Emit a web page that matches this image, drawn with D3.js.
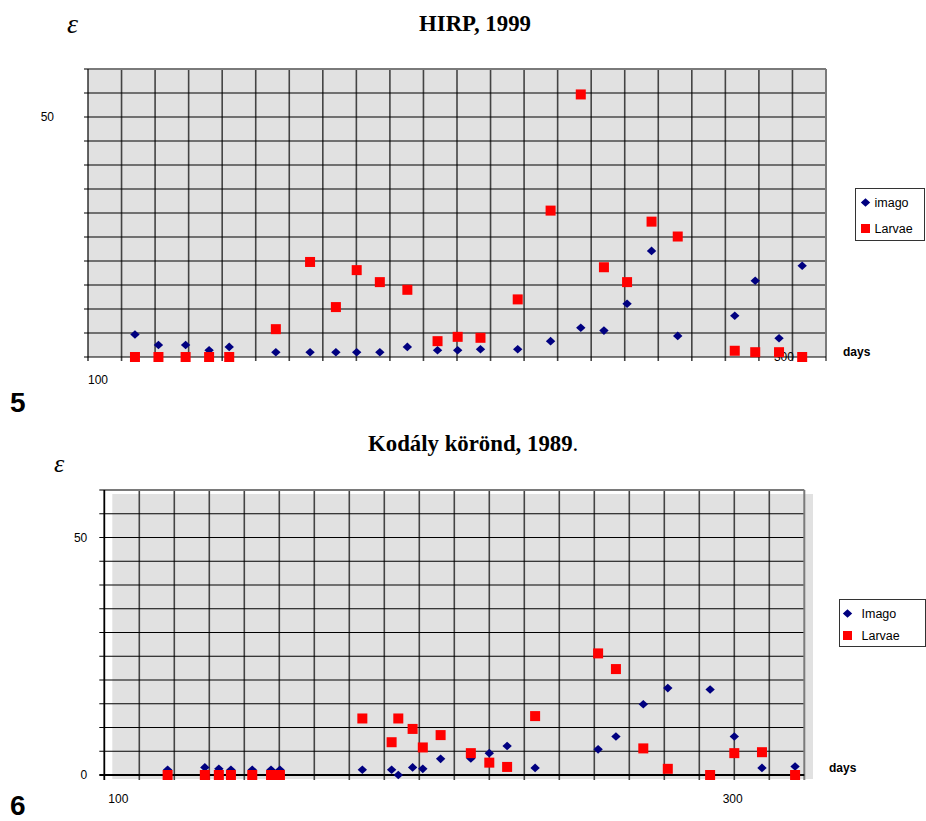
<!DOCTYPE html>
<html>
<head>
<meta charset="utf-8">
<script src="https://cdn.jsdelivr.net/npm/d3@7"></script>
<style>
  html, body { margin: 0; padding: 0; background: #fff; }
  svg { display: block; }
</style>
</head>
<body>
<svg id="chart" width="926" height="821"></svg>
<script>
// ---------- Data: Figure 5 — HIRP, 1999 ----------
const hirpDays   = [114, 121, 129.1, 136.1, 142.1, 156, 166.2, 173.9, 180.1, 187, 195.2, 204.2, 210.2, 217, 228.1, 237.9, 246.9, 253.8, 260.7, 268, 275.8, 292.8, 298.9, 306, 312.9];
const hirpImago  = [4.7, 2.5, 2.5, 1.4, 2.1, 1.0, 1.0, 1.0, 1.0, 1.0, 2.1, 1.4, 1.4, 1.6, 1.6, 3.3, 6.1, 5.5, 11.1, 22.1, 4.4, 8.6, 15.9, 3.9, 19.0];
const hirpLarvae = [0, 0, 0, 0, 0, 5.8, 19.8, 10.4, 18.1, 15.6, 14.0, 3.3, 4.2, 4.0, 12.0, 30.5, 54.7, 18.7, 15.6, 28.2, 25.1, 1.3, 1.0, 1.0, 0];
const hirpSeriesNames = ["imago", "Larvae"];

// ---------- Data: Figure 6 — Kodály körönd, 1989 ----------
const kodalyDays   = [119.9, 131.6, 136, 139.8, 146.5, 152.4, 155.2, 181.1, 190.3, 192.4, 196.9, 200.1, 205.7, 215.2, 221, 226.6, 235.4, 255.2, 260.8, 269.4, 277.1, 290.4, 298, 306.7, 317.1];
const kodalyImago  = [1.1, 1.6, 1.3, 1.1, 1.1, 1.1, 1.1, 1.1, 1.1, 0, 1.6, 1.3, 3.4, 3.5, 4.6, 6.1, 1.5, 5.4, 8.1, 14.9, 18.3, 18.0, 8.1, 1.5, 1.8];
const kodalyLarvae = [0, 0, 0, 0, 0, 0, 0, 11.9, 6.9, 11.9, 9.7, 5.8, 8.4, 4.6, 2.6, 1.7, 12.4, 25.6, 22.3, 5.6, 1.3, 0, 4.6, 4.8, 0];
const kodalySeriesNames = ["Imago", "Larvae"];

// ---------- Axis / tick labels ----------
const xDomain = [100, 320];
const yDomain = [0, 60];
const hirpXGridStep = 10;
const kodalyXGridStep = 11;
const yGridStep = 5;
const hirpXTickLabels = [100, 300];
const hirpYTickLabels = [50];
const kodalyXTickLabels = [100, 300];
const kodalyYTickLabels = [0, 50];

const svg = d3.select("#chart");
const IMAGO = "#000080", LARVAE = "#ff0000";
const diamondPath = "M0,-4.3 L4.7,0 L0,4.3 L-4.7,0 Z";

function drawChart(cfg) {
  const g = svg.append("g");
  const x = d3.scaleLinear().domain(xDomain).range([cfg.left, cfg.right]);
  const y = d3.scaleLinear().domain(yDomain).range([cfg.bottom, cfg.top]);

  // background
  g.append("rect")
    .attr("x", cfg.left + cfg.bgDx).attr("y", cfg.top + cfg.bgDy)
    .attr("width", cfg.right - cfg.left + cfg.bgDw).attr("height", cfg.bottom - cfg.top + cfg.bgDh)
    .attr("fill", "#e1e1e1");

  const xGrid = d3.range(xDomain[0], xDomain[1] + 0.01, cfg.xStep);
  const yGrid = d3.range(yDomain[0], yDomain[1] + 0.01, yGridStep);

  // vertical gridlines
  g.selectAll(".vg").data(xGrid.slice(1, -1)).join("line")
    .attr("x1", d => x(d)).attr("x2", d => x(d))
    .attr("y1", cfg.top).attr("y2", cfg.bottom + cfg.tickLen)
    .attr("stroke", "#444").attr("stroke-width", 1.6);
  // horizontal gridlines
  g.selectAll(".hg").data(yGrid.slice(1, -1)).join("line")
    .attr("x1", cfg.left - cfg.tickLen).attr("x2", cfg.right)
    .attr("y1", d => y(d)).attr("y2", d => y(d))
    .attr("stroke", "#000").attr("stroke-width", 1.1);
  // top & right border (gray)
  g.append("line").attr("x1", cfg.left - cfg.tickLen).attr("x2", cfg.right)
    .attr("y1", cfg.top).attr("y2", cfg.top).attr("stroke", "#7a7a7a").attr("stroke-width", 2);
  g.append("line").attr("x1", cfg.right).attr("x2", cfg.right)
    .attr("y1", cfg.top).attr("y2", cfg.bottom + cfg.tickLen).attr("stroke", "#7a7a7a").attr("stroke-width", 2);
  // axes (black)
  g.append("line").attr("x1", cfg.left).attr("x2", cfg.left)
    .attr("y1", cfg.top).attr("y2", cfg.bottom + cfg.tickLen).attr("stroke", "#000").attr("stroke-width", cfg.axisW);
  g.append("line").attr("x1", cfg.left - cfg.tickLen).attr("x2", cfg.right)
    .attr("y1", cfg.bottom).attr("y2", cfg.bottom).attr("stroke", "#000").attr("stroke-width", cfg.axisW);

  // tick labels
  const labelFont = "Liberation Sans, Arial, sans-serif";
  g.selectAll(".yl").data(cfg.yLabels).join("text")
    .attr("x", cfg.left - cfg.yLabelGap).attr("y", d => y(d) + 4)
    .attr("text-anchor", "end").attr("font-family", labelFont).attr("font-size", 12)
    .text(d => d);
  g.selectAll(".xl").data(cfg.xLabels).join("text")
    .attr("x", (d, i) => x(d) + cfg.xLabelDx[i]).attr("y", (d, i) => cfg.bottom + cfg.xLabelDy[i])
    .attr("text-anchor", "middle").attr("font-family", labelFont).attr("font-size", 12)
    .text(d => d);

  // points: imago
  g.selectAll(".im").data(cfg.days.map((d, i) => [d, cfg.imago[i]])).join("path")
    .attr("d", diamondPath)
    .attr("transform", d => `translate(${x(d[0])},${y(d[1])})`)
    .attr("fill", IMAGO);
  // points: larvae
  g.selectAll(".lv").data(cfg.days.map((d, i) => [d, cfg.larvae[i]])).join("rect")
    .attr("x", d => x(d[0]) - 5).attr("y", d => y(d[1]) - 5)
    .attr("width", 10).attr("height", 10)
    .attr("fill", LARVAE);

  // "days" label
  g.append("text").attr("x", cfg.daysX).attr("y", cfg.bottom + cfg.daysDy)
    .attr("font-family", labelFont).attr("font-size", 12).attr("font-weight", "bold")
    .text("days");

  // epsilon label
  g.append("text").attr("x", cfg.epsX).attr("y", cfg.epsY)
    .attr("font-family", "Liberation Serif, Times New Roman, serif").attr("font-style", "italic")
    .attr("font-size", cfg.epsSize).text("ε");

  // title
  const t = g.append("text").attr("x", cfg.titleX).attr("y", cfg.titleY)
    .attr("text-anchor", cfg.titleAnchor)
    .attr("font-family", "Liberation Serif, Times New Roman, serif").attr("font-size", 22.8);
  t.append("tspan").attr("font-weight", "bold").text(cfg.title);
  if (cfg.titleSuffix) t.append("tspan").text(cfg.titleSuffix);

  // figure number
  g.append("text").attr("x", 10).attr("y", cfg.figY)
    .attr("font-family", labelFont).attr("font-size", 28).attr("font-weight", "bold")
    .text(cfg.figNum);

  // legend
  const L = cfg.legend;
  g.append("rect").attr("x", L.x).attr("y", L.y).attr("width", L.w).attr("height", L.h)
    .attr("fill", "#fff").attr("stroke", "#333").attr("stroke-width", 1);
  g.append("path").attr("d", diamondPath)
    .attr("transform", `translate(${L.x + L.markX},${L.y + L.row1})`).attr("fill", IMAGO);
  g.append("rect").attr("x", L.x + L.markX - 4.5).attr("y", L.y + L.row2 - 4.5)
    .attr("width", 9).attr("height", 9).attr("fill", LARVAE);
  g.selectAll(".lt").data(cfg.names).join("text")
    .attr("x", L.x + L.textX).attr("y", (d, i) => L.y + (i === 0 ? L.row1 : L.row2) + 4.5)
    .attr("font-family", labelFont).attr("font-size", 12.5).text(d => d);
}

drawChart({
  left: 88, right: 826, top: 69, bottom: 357,
  bgDx: 0, bgDy: 0, bgDw: 0, bgDh: 0,
  xStep: hirpXGridStep, tickLen: 4, axisW: 1.2,
  days: hirpDays, imago: hirpImago, larvae: hirpLarvae, names: hirpSeriesNames,
  yLabels: hirpYTickLabels, yLabelGap: 34,
  xLabels: hirpXTickLabels, xLabelDx: [10, 25], xLabelDy: [27, 4],
  daysX: 843, daysDy: -1,
  epsX: 67, epsY: 33, epsSize: 28,
  title: "HIRP, 1999", titleSuffix: null, titleX: 475, titleY: 31, titleAnchor: "middle",
  figNum: "5", figY: 412,
  legend: { x: 855.5, y: 188.5, w: 69, h: 52, markX: 10, textX: 19, row1: 14, row2: 40 }
});

drawChart({
  left: 104.3, right: 804.3, top: 490, bottom: 775,
  bgDx: 8, bgDy: 4, bgDw: 0.7, bgDh: 0,
  xStep: kodalyXGridStep, tickLen: 5, axisW: 1.8,
  days: kodalyDays, imago: kodalyImago, larvae: kodalyLarvae, names: kodalySeriesNames,
  yLabels: kodalyYTickLabels, yLabelGap: 17,
  xLabels: kodalyXTickLabels, xLabelDx: [14, -8], xLabelDy: [28, 28],
  daysX: 829, daysDy: -3,
  epsX: 54, epsY: 472, epsSize: 26,
  title: "Kodály körönd, 1989", titleSuffix: ".", titleX: 368, titleY: 451, titleAnchor: "start",
  figNum: "6", figY: 814.5,
  legend: { x: 839.5, y: 599.5, w: 86, h: 47, markX: 8, textX: 22, row1: 14, row2: 36 }
});
</script>
</body>
</html>
